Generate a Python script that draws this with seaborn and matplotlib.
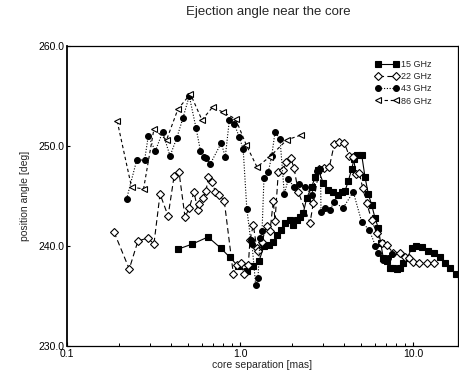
import matplotlib
matplotlib.use("Agg")
import matplotlib.pyplot as plt
import seaborn as sns
from matplotlib.ticker import FixedLocator, LogLocator, NullFormatter

# core separation [mas] and position angle [deg] per frequency
sep_15 = [0.441, 0.531, 0.653, 0.773, 0.870, 0.974, 1.093, 1.194, 1.288, 1.376,
          1.477, 1.558, 1.630, 1.719, 1.820, 1.945, 2.033, 2.127, 2.222, 2.322,
          2.429, 2.597, 2.713, 2.836, 3.030, 3.239, 3.462, 3.700, 3.871, 4.046,
          4.227, 4.423, 4.560, 4.764, 5.052, 5.279, 5.516, 5.771, 6.029, 6.300,
          6.505, 6.734, 7.047, 7.362, 7.692, 8.049, 8.410, 8.788, 9.271, 9.829,
          10.47, 11.23, 12.26, 13.23, 14.33, 15.31, 16.37, 17.73]
pa_15 = [239.7, 240.2, 240.9, 239.8, 238.9, 238.0, 237.5, 238.0, 238.5, 240.0,
         240.1, 240.4, 241.1, 241.6, 242.3, 242.6, 242.1, 242.6, 242.9, 243.3,
         244.8, 245.9, 246.9, 247.6, 246.3, 245.6, 245.4, 245.1, 245.4, 245.5,
         246.5, 247.7, 248.7, 249.1, 249.1, 246.9, 245.2, 244.1, 242.8, 241.8,
         240.3, 238.8, 238.5, 237.8, 237.8, 237.7, 237.8, 238.3, 238.8, 239.8,
         240.0, 239.9, 239.5, 239.3, 238.9, 238.3, 237.8, 237.2]

sep_22 = [0.187, 0.229, 0.257, 0.293, 0.318, 0.345, 0.384, 0.416, 0.444, 0.481,
          0.509, 0.542, 0.570, 0.582, 0.609, 0.636, 0.656, 0.692, 0.720, 0.759,
          0.811, 0.915, 0.965, 1.009, 1.055, 1.117, 1.142, 1.194, 1.249, 1.276,
          1.335, 1.427, 1.491, 1.558, 1.594, 1.665, 1.766, 1.845, 1.964, 2.052,
          2.173, 2.539, 2.653, 2.873, 3.059, 3.283, 3.509, 3.750, 4.009, 4.283,
          4.518, 4.683, 4.893, 5.120, 5.400, 5.771, 6.168, 6.593, 7.047, 7.692,
          8.410, 8.991, 9.519, 10.04, 10.87, 12.00, 13.23]
pa_22 = [241.4, 237.7, 240.5, 240.8, 240.2, 245.2, 243.0, 247.0, 247.4, 242.9,
         243.8, 245.4, 243.6, 244.2, 244.8, 245.5, 246.9, 246.4, 245.4, 245.1,
         244.5, 237.2, 238.1, 238.3, 237.2, 238.1, 240.6, 242.1, 239.8, 239.5,
         240.4, 242.0, 241.5, 244.5, 242.5, 247.4, 247.6, 248.4, 248.8, 247.8,
         245.4, 242.3, 244.3, 247.7, 247.8, 247.9, 250.2, 250.4, 250.3, 249.0,
         248.9, 247.2, 247.3, 245.8, 244.3, 242.6, 241.3, 240.3, 240.1, 239.3,
         239.3, 238.9, 238.8, 238.4, 238.3, 238.3, 238.3]

sep_43 = [0.221, 0.253, 0.281, 0.295, 0.324, 0.357, 0.394, 0.431, 0.468, 0.509,
          0.557, 0.591, 0.619, 0.640, 0.673, 0.779, 0.822, 0.868, 0.927, 0.990,
          1.043, 1.095, 1.153, 1.173, 1.232, 1.271, 1.305, 1.341, 1.376, 1.457,
          1.525, 1.594, 1.703, 1.804, 1.902, 2.052, 2.202, 2.376, 2.597, 2.798,
          2.919, 2.939, 3.120, 3.313, 3.495, 3.939, 4.518, 5.052, 5.590, 6.069,
          6.300, 6.734, 7.171, 7.560]
pa_43 = [244.7, 248.6, 248.6, 251.0, 249.5, 251.4, 249.0, 250.8, 252.8, 255.0,
         251.8, 249.5, 248.9, 248.8, 248.2, 250.3, 248.9, 252.6, 252.2, 250.9,
         249.7, 243.7, 240.6, 240.2, 236.1, 236.8, 240.8, 241.5, 246.8, 247.4,
         249.0, 251.4, 250.7, 245.2, 246.7, 245.9, 246.2, 245.9, 245.1, 247.5,
         247.7, 243.4, 243.8, 243.6, 244.4, 243.8, 245.4, 242.4, 241.6, 240.0,
         239.3, 238.6, 238.8, 239.2]

sep_86 = [0.195, 0.236, 0.277, 0.318, 0.376, 0.438, 0.517, 0.603, 0.695, 0.794,
          0.944, 1.087, 1.254, 1.481, 1.862, 2.253]
pa_86 = [252.5, 245.9, 245.7, 251.7, 250.6, 253.7, 255.2, 252.6, 253.9, 253.4,
         252.7, 250.1, 247.9, 248.9, 250.6, 251.1]

x_ticks = [0.1, 1.0, 10.0]
x_tick_labels = ["0.1", "1.0", "10.0"]
y_ticks = [230, 240, 250, 260]
y_tick_labels = ["230.0", "240.0", "250.0", "260.0"]

sns.set_theme(style="ticks")
plt.rcParams["font.family"] = ["Liberation Sans", "DejaVu Sans"]

fig = plt.figure(figsize=(4.59, 3.81), dpi=100)
ax = fig.add_axes([67 / 459, 35 / 381, 391 / 459, 300 / 381])

series = [
    ("15 GHz", sep_15, pa_15, "s", "black", "-"),
    ("22 GHz", sep_22, pa_22, "D", "white", (0, (5, 3))),
    ("43 GHz", sep_43, pa_43, "o", "black", (0, (1, 1.5))),
    ("86 GHz", sep_86, pa_86, "<", "white", (0, (3, 2.5))),
]
for label, xs, ys, mk, face, ls in series:
    sns.lineplot(x=xs, y=ys, ax=ax, sort=False, estimator=None, label=label,
                 color="black", linewidth=0.8, linestyle=ls,
                 marker=mk, markersize=4.2 if mk != "D" else 3.6,
                 markerfacecolor=face, markeredgecolor="black",
                 markeredgewidth=0.8)

ax.set_xscale("log")
ax.set_xlim(0.1, 18.2)
ax.set_ylim(230, 260)
ax.xaxis.set_major_locator(FixedLocator(x_ticks))
ax.set_xticklabels(x_tick_labels)
ax.xaxis.set_minor_locator(LogLocator(base=10, subs=range(2, 10)))
ax.xaxis.set_minor_formatter(NullFormatter())
ax.set_yticks(y_ticks)
ax.set_yticklabels(y_tick_labels)

ax.tick_params(axis="both", which="major", direction="in", length=3,
               width=0.8, labelsize=7.5, color="black", labelcolor="black",
               pad=2)
ax.tick_params(axis="both", which="minor", direction="in", length=2,
               width=0.7, color="black")
ax.tick_params(axis="y", which="major", length=2)

for side in ["left", "bottom", "top", "right"]:
    ax.spines[side].set_color("black")
    ax.spines[side].set_linewidth(0.9)
ax.spines["left"].set_linewidth(1.3)

ax.set_xlabel("core separation [mas]", fontsize=7.5, labelpad=1)
ax.set_ylabel("position angle [deg]", fontsize=7.5, labelpad=6)
fig.suptitle("Ejection angle near the core", x=0.585, y=0.985, fontsize=9.5)

leg = ax.legend(loc="upper left", bbox_to_anchor=(0.78, 0.965), frameon=False,
                fontsize=6.5, numpoints=2, handlelength=2.6, handletextpad=0.2,
                labelspacing=0.35, borderaxespad=0)

fig.savefig("out.png", dpi=100)
